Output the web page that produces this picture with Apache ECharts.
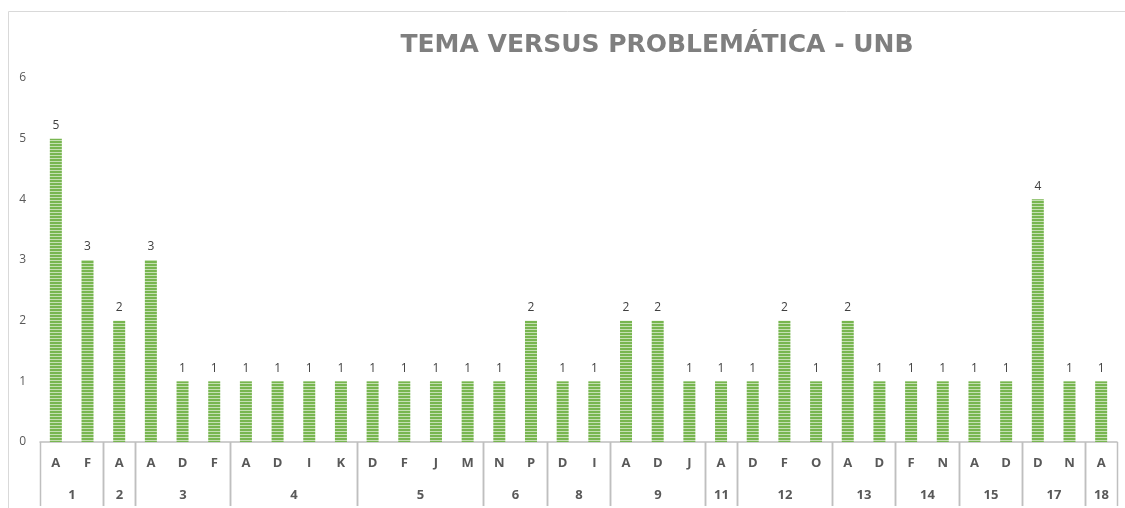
<!DOCTYPE html>
<html>
<head>
<meta charset="utf-8">
<script src="https://cdn.jsdelivr.net/npm/echarts@6/dist/echarts.min.js"></script>
<style>
  html, body { margin: 0; padding: 0; background: #fff; }
  #chart { width: 1125px; height: 508px; }
</style>
</head>
<body>
<div id="chart"></div>
<script>
// sub categories (problemática) in order
const letters = ['A', 'F', 'A', 'A', 'D', 'F', 'A', 'D', 'I', 'K', 'D', 'F', 'J', 'M', 'N', 'P', 'D', 'I',
  'A', 'D', 'J', 'A', 'D', 'F', 'O', 'A', 'D', 'F', 'N', 'A', 'D', 'D', 'N', 'A'];
// values per bar
const counts = [5, 3, 2, 3, 1, 1, 1, 1, 1, 1, 1, 1, 1, 1, 1, 2, 1, 1,
  2, 2, 1, 1, 1, 2, 1, 2, 1, 1, 1, 1, 1, 4, 1, 1];
// tema groups and how many bars each one has
const groupNames = ['1', '2', '3', '4', '5', '6', '8', '9', '11', '12', '13', '14', '15', '17', '18'];
const groupSizes = [2, 1, 3, 4, 4, 2, 2, 3, 1, 3, 2, 2, 2, 2, 1];
const yTicks = [0, 1, 2, 3, 4, 5, 6];

// start / end index of each group
const groupRanges = [];
let pos = 0;
groupSizes.forEach((n, i) => {
  groupRanges.push({ value: [pos, 0, pos + n - 1], name: groupNames[i] });
  pos += n;
});

// striped fill like the excel pattern
const stripe = document.createElement('canvas');
stripe.width = 4;
stripe.height = 3;
const sctx = stripe.getContext('2d');
sctx.fillStyle = '#78B650';
sctx.fillRect(0, 0, 4, 2);
sctx.fillStyle = '#C5E0B3';
sctx.fillRect(0, 2, 4, 1);

const chart = echarts.init(document.getElementById('chart'));

const option = {
  animation: false,
  title: {
    text: 'TEMA VERSUS PROBLEMÁTICA - UNB',
    left: 652,
    top: 28,
    textAlign: 'center',
    textStyle: {
      fontFamily: 'DejaVu Sans',
      fontWeight: 'bold',
      fontSize: 25,
      color: '#7F7F7F'
    }
  },
  graphic: [{
    type: 'rect',
    shape: { x: 8.5, y: 11.5, width: 1130, height: 520 },
    style: { fill: 'none', stroke: '#D9D9D9', lineWidth: 1 },
    silent: true
  }],
  grid: {
    left: 40,
    right: 8,
    top: 78,
    bottom: 66
  },
  xAxis: {
    type: 'category',
    data: letters,
    axisTick: { show: false },
    axisLine: { lineStyle: { color: '#BFBFBF', width: 1.5 } },
    axisLabel: {
      interval: 0,
      margin: 15,
      fontFamily: 'Open Sans',
      fontWeight: 'bold',
      fontSize: 13,
      color: '#595959'
    }
  },
  yAxis: {
    type: 'value',
    min: yTicks[0],
    max: yTicks[yTicks.length - 1],
    interval: 1,
    splitLine: { show: false },
    axisLine: { show: false },
    axisTick: { show: false },
    axisLabel: {
      margin: 14,
      fontFamily: 'Open Sans',
      fontSize: 12,
      color: '#595959'
    }
  },
  series: [
    {
      type: 'bar',
      data: counts,
      barWidth: 12,
      itemStyle: {
        color: { image: stripe, repeat: 'repeat' }
      },
      label: {
        show: true,
        position: 'top',
        distance: 7,
        fontFamily: 'Open Sans',
        fontSize: 12,
        color: '#404040'
      }
    },
    {
      // second row of the category axis: tema groups with dividers
      type: 'custom',
      clip: false,
      silent: true,
      encode: { x: 0, y: 1 },
      data: groupRanges,
      renderItem(params, api) {
        const bw = api.size([1, 0])[0];
        const a = api.coord([api.value(0), 0]);
        const b = api.coord([api.value(2), 0]);
        const x0 = Math.round(a[0] - bw / 2) + 0.5;
        const x1 = Math.round(b[0] + bw / 2) + 0.5;
        const y0 = a[1];
        const lineStyle = { stroke: '#BFBFBF', lineWidth: 1.5 };
        return {
          type: 'group',
          children: [
            { type: 'line', shape: { x1: x0, y1: y0, x2: x0, y2: y0 + 64 }, style: lineStyle },
            { type: 'line', shape: { x1: x1, y1: y0, x2: x1, y2: y0 + 64 }, style: lineStyle },
            {
              type: 'text',
              x: (x0 + x1) / 2,
              y: y0 + 53,
              style: {
                text: groupNames[params.dataIndex],
                align: 'center',
                verticalAlign: 'middle',
                font: 'bold 13px "Open Sans"',
                fill: '#595959'
              }
            }
          ]
        };
      }
    }
  ]
};

chart.setOption(option);
</script>
</body>
</html>
